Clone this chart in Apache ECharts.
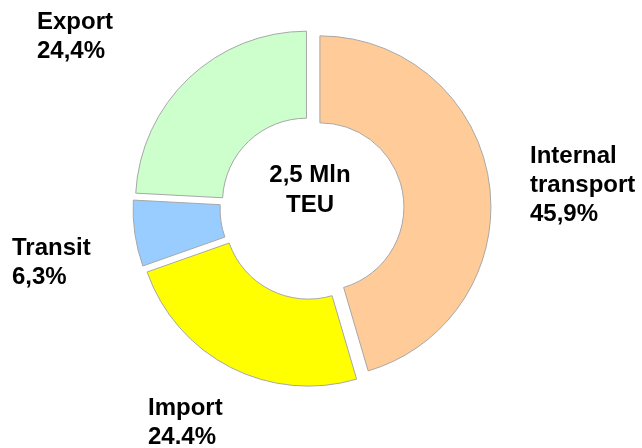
<!DOCTYPE html>
<html>
<head>
<meta charset="utf-8">
<script src="https://cdn.jsdelivr.net/npm/echarts@6/dist/echarts.min.js"></script>
<style>
  html, body { margin: 0; padding: 0; background: #ffffff; }
  #chart { width: 642px; height: 448px; }
</style>
</head>
<body>
<div id="chart"></div>
<script>
  // slices, clockwise from 12 o'clock
  var categories = ['Internal\ntransport', 'Import', 'Transit', 'Export'];
  var shares = [45.9, 24.4, 6.3, 24.4];
  var shareLabels = ['45,9%', '24.4%', '6,3%', '24,4%'];
  var centerLines = ['2,5 Mln', 'TEU'];

  var colors = ['#ffcc99', '#ffff00', '#99ccff', '#ccffcc'];
  // top-left corner of each label block
  var labelPos = [[530, 142], [148, 394], [12, 234], [37, 8]];

  var chart = echarts.init(document.getElementById('chart'));

  var font = {
    fontFamily: 'Liberation Sans',
    fontWeight: 'bold',
    fontSize: 24,
    lineHeight: 29,
    fill: '#000'
  };

  var data = categories.map(function (c, i) {
    return {
      name: c,
      value: shares[i],
      selected: true,
      itemStyle: { color: colors[i] }
    };
  });

  var labels = categories.map(function (c, i) {
    return {
      type: 'text',
      x: labelPos[i][0],
      y: labelPos[i][1],
      silent: true,
      style: Object.assign({
        text: c + '\n' + shareLabels[i],
        textAlign: 'left',
        textVerticalAlign: 'top'
      }, font)
    };
  });

  labels.push({
    type: 'text',
    x: 310,
    y: 160,
    silent: true,
    style: Object.assign({
      text: centerLines.join('\n'),
      textAlign: 'center',
      textVerticalAlign: 'top'
    }, font, { lineHeight: 30 })
  });

  var option = {
    backgroundColor: '#ffffff',
    animation: false,
    graphic: labels,
    series: [{
      type: 'pie',
      center: [312, 208],
      radius: [84, 171],
      startAngle: 90,
      clockwise: true,
      selectedMode: 'multiple',
      selectedOffset: 8,
      emphasis: { disabled: true },
      itemStyle: {
        borderColor: '#a8a8a8',
        borderWidth: 1
      },
      label: { show: false },
      labelLine: { show: false },
      data: data
    }]
  };

  chart.setOption(option);
</script>
</body>
</html>
